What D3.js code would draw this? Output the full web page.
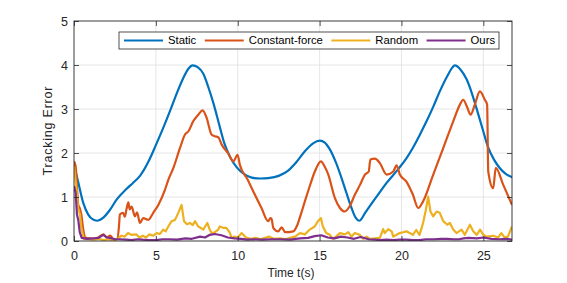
<!DOCTYPE html>
<html>
<head>
<meta charset="utf-8">
<script src="https://cdn.jsdelivr.net/npm/d3@7"></script>
<style>
  body { margin: 0; background: #fff; }
  text { font-family: "Liberation Sans", Arial, Helvetica, sans-serif; }
</style>
</head>
<body>
<div id="chart"></div>
<script>
/////////////////////// DATA ///////////////////////
var series_names = ["Static", "Constant-force", "Random", "Ours"];
var series_colors = ["#0072BD", "#D95319", "#EDB120", "#7E2F8E"];
var x_ticks = [0, 5, 10, 15, 20, 25];
var y_ticks = [0, 1, 2, 3, 4, 5];

var static_t = [0, 0.27, 0.57, 0.87, 1.15, 1.4, 1.79, 2.2, 2.6, 3.2, 3.6, 4.03, 4.54, 5.0, 5.45, 5.86, 6.27, 6.67, 7.0, 7.24, 7.55, 7.9, 8.2, 8.5, 8.9, 9.2, 9.55, 9.93, 10.4, 10.85, 11.4, 11.86, 12.5, 13.08, 13.6, 14.1, 14.6, 15.02, 15.3, 15.6, 16.0, 16.34, 16.65, 16.95, 17.2, 17.42, 17.8, 18.27, 18.7, 19.09, 19.5, 19.9, 20.3, 20.7, 21.1, 21.53, 21.95, 22.34, 22.8, 23.1, 23.26, 23.6, 23.97, 24.28, 24.58, 24.95, 25.3, 25.65, 26.0, 26.35, 26.75];
var static_v = [1.73, 1.32, 0.86, 0.6, 0.49, 0.46, 0.53, 0.71, 0.94, 1.18, 1.32, 1.48, 1.8, 2.18, 2.57, 2.95, 3.35, 3.7, 3.92, 3.99, 3.95, 3.8, 3.5, 3.15, 2.6, 2.2, 1.9, 1.68, 1.52, 1.44, 1.42, 1.43, 1.48, 1.6, 1.8, 2.04, 2.22, 2.28, 2.24, 2.1, 1.78, 1.43, 1.08, 0.75, 0.53, 0.46, 0.65, 0.9, 1.12, 1.32, 1.5, 1.68, 1.88, 2.12, 2.4, 2.72, 3.06, 3.4, 3.75, 3.94, 3.99, 3.9, 3.68, 3.38, 3.02, 2.55, 2.12, 1.85, 1.66, 1.53, 1.45];

var force_t = [0, 0.1, 0.26, 0.35, 0.45, 0.55, 0.7, 1.0, 1.3, 1.55, 1.8, 2.0, 2.2, 2.45, 2.65, 2.75, 2.8, 3.0, 3.1, 3.22, 3.32, 3.4, 3.52, 3.72, 3.85, 4.03, 4.23, 4.54, 4.84, 5.15, 5.56, 5.76, 6.07, 6.47, 6.78, 7.0, 7.28, 7.59, 7.86, 8.1, 8.4, 8.6, 8.81, 9.02, 9.4, 9.73, 9.99, 10.13, 10.6, 11.05, 11.45, 11.86, 12.0, 12.07, 12.17, 12.47, 12.68, 12.9, 13.39, 13.6, 13.85, 14.1, 14.4, 14.71, 15.08, 15.3, 15.53, 15.93, 16.24, 16.54, 16.85, 17.15, 17.46, 17.77, 18.0, 18.1, 18.37, 18.68, 19.09, 19.5, 19.7, 19.9, 20.3, 20.7, 21.02, 21.32, 21.94, 22.55, 23.16, 23.57, 23.77, 24.0, 24.22, 24.48, 24.79, 25.09, 25.23, 25.3, 25.6, 25.76, 26.21, 26.75];
var force_v = [1.81, 1.7, 0.82, 0.75, 0.6, 0.3, 0.08, 0.06, 0.05, 0.1, 0.15, 0.08, 0.12, 0.03, 0.05, 0.35, 0.6, 0.64, 0.55, 0.75, 0.88, 0.72, 0.78, 0.56, 0.65, 0.41, 0.52, 0.48, 0.64, 0.82, 1.17, 1.39, 1.66, 2.11, 2.42, 2.5, 2.72, 2.87, 2.97, 2.8, 2.42, 2.38, 2.36, 2.19, 2.0, 1.81, 1.96, 1.73, 1.4, 1.05, 0.75, 0.45, 0.52, 0.5, 0.3, 0.22, 0.31, 0.2, 0.22, 0.33, 0.6, 0.9, 1.25, 1.58, 1.81, 1.7, 1.51, 0.98, 0.75, 0.67, 0.8, 1.05, 1.27, 1.51, 1.58, 1.85, 1.87, 1.77, 1.51, 1.58, 1.72, 1.51, 1.35, 1.05, 0.75, 0.9, 1.51, 2.11, 2.72, 3.1, 3.21, 3.05, 2.87, 3.1, 3.4, 3.21, 3.1, 1.58, 1.2, 1.66, 1.28, 0.82];

var random_t = [0, 0.15, 0.25, 0.37, 0.45, 0.6, 0.9, 1.2, 1.5, 1.8, 2.1, 2.4, 2.7, 2.9, 3.1, 3.3, 3.5, 3.8, 4.0, 4.2, 4.4, 4.6, 4.85, 5.05, 5.25, 5.45, 5.6, 5.76, 5.96, 6.17, 6.37, 6.57, 6.72, 6.9, 7.08, 7.25, 7.39, 7.59, 7.9, 8.14, 8.3, 8.4, 8.6, 8.81, 8.9, 9.1, 9.3, 9.5, 9.63, 9.8, 10.0, 10.24, 10.5, 10.8, 11.1, 11.4, 11.66, 11.9, 12.2, 12.6, 12.9, 13.2, 13.5, 13.8, 14.1, 14.4, 14.7, 14.9, 15.08, 15.2, 15.4, 15.6, 15.8, 16.0, 16.24, 16.55, 16.75, 16.95, 17.15, 17.46, 17.66, 17.87, 18.07, 18.4, 18.68, 18.88, 18.98, 19.19, 19.4, 19.5, 19.7, 19.9, 20.1, 20.3, 20.5, 20.7, 20.9, 21.1, 21.32, 21.49, 21.63, 21.77, 21.94, 22.14, 22.34, 22.55, 22.8, 22.96, 23.16, 23.36, 23.67, 23.87, 24.18, 24.38, 24.6, 24.8, 25.0, 25.2, 25.6, 25.9, 26.1, 26.3, 26.5, 26.75];
var random_v = [1.7, 1.2, 0.75, 0.6, 0.3, 0.05, 0.04, 0.03, 0.05, 0.02, 0.04, 0.02, 0.06, 0.12, 0.1, 0.18, 0.14, 0.15, 0.08, 0.12, 0.08, 0.15, 0.12, 0.18, 0.16, 0.26, 0.22, 0.33, 0.45, 0.48, 0.64, 0.82, 0.45, 0.38, 0.41, 0.36, 0.45, 0.33, 0.26, 0.41, 0.25, 0.18, 0.2, 0.26, 0.33, 0.3, 0.3, 0.2, 0.07, 0.1, 0.08, 0.18, 0.08, 0.05, 0.07, 0.04, 0.07, 0.1, 0.05, 0.06, 0.04, 0.07, 0.1, 0.18, 0.15, 0.26, 0.33, 0.45, 0.52, 0.33, 0.18, 0.15, 0.05, 0.1, 0.18, 0.15, 0.2, 0.1, 0.18, 0.14, 0.05, 0.1, 0.05, 0.06, 0.07, 0.27, 0.18, 0.27, 0.22, 0.1, 0.14, 0.18, 0.2, 0.22, 0.18, 0.14, 0.25, 0.14, 0.41, 0.71, 1.01, 0.67, 0.56, 0.67, 0.64, 0.45, 0.37, 0.41, 0.26, 0.18, 0.26, 0.14, 0.37, 0.22, 0.14, 0.26, 0.14, 0.1, 0.12, 0.08, 0.18, 0.08, 0.1, 0.33];

var ours_t = [0, 0.1, 0.18, 0.26, 0.35, 0.47, 0.8, 1.2, 1.5, 1.79, 2.0, 2.2, 2.5, 2.8, 3.2, 3.5, 3.9, 4.2, 4.6, 5.0, 5.4, 5.8, 6.3, 6.8, 7.2, 7.7, 8.0, 8.3, 8.6, 9.0, 9.4, 9.8, 10.2, 10.6, 11.0, 11.5, 12.0, 12.6, 13.2, 13.8, 14.3, 14.7, 15.1, 15.5, 15.9, 16.3, 16.7, 17.1, 17.5, 18.0, 18.4, 18.7, 19.1, 19.5, 19.9, 20.3, 20.7, 21.1, 21.5, 22.0, 22.4, 22.8, 23.2, 23.5, 23.8, 24.1, 24.6, 25.0, 25.5, 26.0, 26.4, 26.75];
var ours_v = [1.25, 1.1, 0.6, 0.48, 0.2, 0.07, 0.05, 0.06, 0.07, 0.14, 0.08, 0.07, 0.04, 0.04, 0.03, 0.02, 0.04, 0.03, 0.02, 0.02, 0.04, 0.04, 0.03, 0.06, 0.05, 0.1, 0.08, 0.14, 0.16, 0.13, 0.08, 0.06, 0.05, 0.03, 0.04, 0.03, 0.04, 0.04, 0.03, 0.06, 0.07, 0.11, 0.13, 0.08, 0.06, 0.1, 0.08, 0.05, 0.09, 0.04, 0.03, 0.02, 0.03, 0.02, 0.03, 0.03, 0.02, 0.02, 0.04, 0.04, 0.05, 0.05, 0.04, 0.04, 0.06, 0.07, 0.06, 0.08, 0.05, 0.04, 0.05, 0.03];

/////////////////////// CHART ///////////////////////
let W = 567, H = 283;
let margin = {top: 21, right: 55, bottom: 42, left: 74},
    width = W - margin.left - margin.right,
    height = H - margin.top - margin.bottom;
let axis_color = "#262626";

let svg = d3.select("#chart")
    .append("svg")
    .attr("width", W)
    .attr("height", H);

let g = svg.append("g")
    .attr("transform", "translate(" + margin.left + "," + margin.top + ")");

let x_scale = d3.scaleLinear().domain([0, 26.75]).range([0, width]);
let y_scale = d3.scaleLinear().domain([0, 5]).range([height, 0]);

// grid
g.append("g")
    .selectAll("line")
    .data(x_ticks.slice(1))
    .enter().append("line")
    .attr("x1", d => x_scale(d)).attr("x2", d => x_scale(d))
    .attr("y1", 0).attr("y2", height)
    .style("stroke", "#dfdfdf").style("stroke-width", 0.8);
g.append("g")
    .selectAll("line")
    .data(y_ticks.slice(1, -1))
    .enter().append("line")
    .attr("y1", d => y_scale(d)).attr("y2", d => y_scale(d))
    .attr("x1", 0).attr("x2", width)
    .style("stroke", "#dfdfdf").style("stroke-width", 0.8);

// lines
g.append("clipPath").attr("id", "clip")
    .append("rect").attr("width", width).attr("height", height);

let all_series = [
    {t: static_t, v: static_v, curve: d3.curveMonotoneX},
    {t: force_t, v: force_v, curve: d3.curveMonotoneX},
    {t: random_t, v: random_v, curve: d3.curveLinear},
    {t: ours_t, v: ours_v, curve: d3.curveLinear}
];

all_series.forEach((s, i) => {
    let pts = s.t.map((t, k) => [t, s.v[k]]);
    let line = d3.line()
        .x(d => x_scale(d[0]))
        .y(d => y_scale(d[1]))
        .curve(s.curve);
    g.append("path")
        .datum(pts)
        .attr("clip-path", "url(#clip)")
        .attr("d", line)
        .style("fill", "none")
        .style("stroke", series_colors[i])
        .style("stroke-width", 2.2)
        .style("stroke-linejoin", "round");
});

// axes (MATLAB box style, ticks inside)
let style_axis = sel => {
    sel.select(".domain").remove();
    sel.selectAll("line").style("stroke", axis_color).style("stroke-width", 0.8);
    sel.selectAll("text").style("fill", axis_color).style("font-size", "12.5px");
};

g.append("g")
    .attr("transform", "translate(0," + height + ")")
    .call(d3.axisBottom(x_scale).tickValues(x_ticks).tickSize(-5).tickPadding(10).tickFormat(d3.format("d")))
    .call(style_axis);
g.append("g")
    .call(d3.axisTop(x_scale).tickValues(x_ticks).tickSize(-5).tickFormat(""))
    .call(style_axis);
g.append("g")
    .call(d3.axisLeft(y_scale).tickValues(y_ticks).tickSize(-5).tickPadding(6).tickFormat(d3.format("d")))
    .call(style_axis);
g.append("g")
    .attr("transform", "translate(" + width + ",0)")
    .call(d3.axisRight(y_scale).tickValues(y_ticks).tickSize(-5).tickFormat(""))
    .call(style_axis);

g.append("rect")
    .attr("width", width).attr("height", height)
    .style("fill", "none")
    .style("stroke", axis_color)
    .style("stroke-width", 0.9);

// axis labels
g.append("text")
    .attr("x", width / 2 - 2)
    .attr("y", height + 36)
    .attr("text-anchor", "middle")
    .style("font-size", "12px")
    .style("fill", axis_color)
    .text("Time t(s)");

g.append("text")
    .attr("transform", "translate(" + (-22.5) + "," + (height / 2) + ") rotate(-90)")
    .attr("text-anchor", "middle")
    .attr("textLength", 89)
    .attr("lengthAdjust", "spacing")
    .style("font-size", "12.5px")
    .style("fill", axis_color)
    .text("Tracking Error");

// legend
let legend = g.append("g").attr("transform", "translate(" + (119 - margin.left) + "," + (32 - margin.top) + ")");
legend.append("rect")
    .attr("width", 380)
    .attr("height", 17)
    .style("fill", "#fff")
    .style("stroke", axis_color)
    .style("stroke-width", 0.8);

let cursor = 5;
series_names.forEach((name, i) => {
    legend.append("line")
        .attr("x1", cursor).attr("x2", cursor + 39)
        .attr("y1", 8.5).attr("y2", 8.5)
        .style("stroke", series_colors[i])
        .style("stroke-width", 2.2);
    let txt = legend.append("text")
        .attr("x", cursor + 44)
        .attr("y", 8.5)
        .attr("dy", "0.35em")
        .style("font-size", "11.3px")
        .style("fill", "#000")
        .text(name);
    cursor = cursor + 44 + txt.node().getComputedTextLength() + 8.5;
});
</script>
</body>
</html>
